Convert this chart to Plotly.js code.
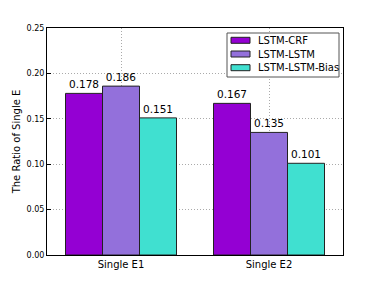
<!DOCTYPE html>
<html><head><meta charset="utf-8">
<script src="https://cdn.plot.ly/plotly-3.0.1.min.js"></script>
<style>body{margin:0;background:#fff}#c{width:382px;height:284px}</style>
</head><body><div id="c"></div>
<script>
const categories = ["Single E1", "Single E2"];
const seriesNames = ["LSTM-CRF", "LSTM-LSTM", "LSTM-LSTM-Bias"];
const lstmCrf = [0.178, 0.167];
const lstmLstm = [0.186, 0.135];
const lstmLstmBias = [0.151, 0.101];
const colors = ["#9400D3", "#9370DB", "#40E0D0"];
const yTicks = [0, 0.05, 0.10, 0.15, 0.20, 0.25];
const yTickText = ["0.00", "0.05", "0.10", "0.15", "0.20", "0.25"];

const vals = [lstmCrf, lstmLstm, lstmLstmBias];
const font = "DejaVu Sans, sans-serif";
const M = {l: 47, r: 39, t: 28, b: 29};
const W = 382, H = 284;
const pw = W - M.l - M.r, ph = H - M.t - M.b;
const px = x => (x - M.l) / pw;          // pixel -> paper x
const py = y => (H - M.b - y) / ph;      // pixel -> paper y

const data = vals.map((v, i) => ({
  type: "bar", x: categories, y: v, name: seriesNames[i],
  marker: {color: colors[i], line: {color: "#222", width: 1}},
  text: v.map(d => d.toFixed(3)), textposition: "outside",
  textfont: {family: font, size: 10.5, color: "#000"}, cliponaxis: false,
  showlegend: false
}));

// matplotlib-style legend box
const shapes = [{type: "rect", xref: "paper", yref: "paper",
  x0: px(227), x1: px(339), y0: py(77), y1: py(33),
  fillcolor: "#fff", line: {color: "#555", width: 1}, layer: "above"}];
const annotations = [];
seriesNames.forEach((n, i) => {
  const cy = 40.3 + i * 13.7;
  shapes.push({type: "rect", xref: "paper", yref: "paper",
    x0: px(231), x1: px(250), y0: py(cy + 3), y1: py(cy - 3),
    fillcolor: colors[i], line: {color: "#222", width: 1}, layer: "above"});
  annotations.push({xref: "paper", yref: "paper", x: px(256), y: py(cy),
    xanchor: "left", yanchor: "middle", showarrow: false, text: n,
    font: {family: font, size: 10, color: "#000"}});
});

const grid = {showgrid: true, gridcolor: "#aaa", griddash: "1px,2px", gridwidth: 1};
const layout = {
  width: W, height: H, margin: M,
  paper_bgcolor: "#fff", plot_bgcolor: "#fff",
  barmode: "group", bargap: 0.25, bargroupgap: 0,
  font: {family: font, color: "#000"},
  xaxis: Object.assign({range: [-0.5, 1.5], showline: true, mirror: true, linecolor: "#000", linewidth: 1,
    ticks: "", tickfont: {size: 10}, fixedrange: true}, grid),
  yaxis: Object.assign({range: [0, 0.25], tickvals: yTicks, ticktext: yTickText,
    showline: true, mirror: true, linecolor: "#000", linewidth: 1, zeroline: false,
    ticks: "inside", ticklen: 4, tickcolor: "#000", tickfont: {size: 8},
    title: {text: "The Ratio of Single E", font: {size: 10}, standoff: 4}}, grid),
  shapes: shapes, annotations: annotations,
  showlegend: false
};
Plotly.newPlot("c", data, layout, {displayModeBar: false, staticPlot: true});
</script></body></html>
